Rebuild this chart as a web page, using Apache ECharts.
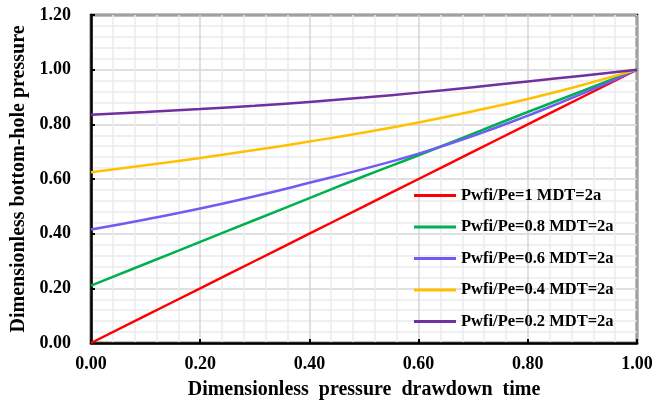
<!DOCTYPE html>
<html><head><meta charset="utf-8">
<script src="https://cdn.jsdelivr.net/npm/echarts@6/dist/echarts.min.js"></script>
<style>html,body{margin:0;padding:0;background:#fff}#c{width:652px;height:402px}</style>
</head><body><div id="c"></div>
<script>
const tValues = [0, 0.1, 0.2, 0.3, 0.4, 0.5, 0.6, 0.7, 0.8, 0.9, 1.0];
const seriesNames = ['Pwfi/Pe=1 MDT=2a','Pwfi/Pe=0.8 MDT=2a','Pwfi/Pe=0.6 MDT=2a','Pwfi/Pe=0.4 MDT=2a','Pwfi/Pe=0.2 MDT=2a'];
const ratio1 = [0, 0.1, 0.2, 0.3, 0.4, 0.5, 0.6, 0.7, 0.8, 0.9, 1.0];
const ratio08 = [0.21, 0.29, 0.37, 0.45, 0.53, 0.61, 0.687, 0.766, 0.845, 0.922, 1.0];
const ratio06 = [0.415, 0.452, 0.492, 0.537, 0.586, 0.637, 0.693, 0.758, 0.832, 0.912, 1.0];
const ratio04 = [0.625, 0.65, 0.677, 0.706, 0.737, 0.77, 0.807, 0.848, 0.893, 0.944, 1.0];
const ratio02 = [0.835, 0.845, 0.856, 0.868, 0.882, 0.898, 0.916, 0.936, 0.957, 0.978, 1.0];
const colors = ['#ff0000', '#00b050', '#6f5cf2', '#ffc000', '#7030a0'];
const allData = [ratio1, ratio08, ratio06, ratio04, ratio02];

const font = '"Liberation Serif", "Times New Roman", serif';
const chart = echarts.init(document.getElementById('c'));
chart.setOption({
  animation: false,
  grid: { left: 91, right: 15, top: 15, bottom: 59, containLabel: false, outerBoundsMode: 'none',
          show: true, borderColor: '#000', borderWidth: 2.5 },
  legend: {
    orient: 'vertical', left: 409, top: 182,
    icon: 'rect', itemWidth: 42, itemHeight: 3, itemGap: 14.5,
    textStyle: { fontFamily: font, fontWeight: 'bold', fontSize: 16.5, lineHeight: 16, color: '#000' },
    data: seriesNames
  },
  xAxis: {
    type: 'value', min: 0, max: 1, interval: 0.2,
    name: 'Dimensionless  pressure  drawdown  time', nameLocation: 'middle', nameGap: 37,
    nameTextStyle: { fontFamily: font, fontWeight: 'bold', fontSize: 20, color: '#000' },
    axisLine: { lineStyle: { color: '#000', width: 2.5 } },
    axisTick: { show: true, inside: true, length: 4, lineStyle: { color: '#000', width: 2 } },
    axisLabel: { fontFamily: font, fontWeight: 'bold', fontSize: 18, color: '#000', margin: 12, formatter: v => v.toFixed(2) },
    splitLine: { show: true, lineStyle: { color: '#d6d6d6', width: 1.5 } },
    minorTick: { show: false, splitNumber: 5 },
    minorSplitLine: { show: true, lineStyle: { color: '#ececec', width: 1.5 } }
  },
  yAxis: {
    type: 'value', min: 0, max: 1.2, interval: 0.2,
    name: 'Dimensionless bottom-hole pressure', nameLocation: 'middle', nameGap: 52,
    nameTextStyle: { fontFamily: font, fontWeight: 'bold', fontSize: 20, color: '#000' },
    axisLine: { show: true, lineStyle: { color: '#000', width: 2.5 } },
    axisTick: { show: true, inside: true, length: 4, lineStyle: { color: '#000', width: 2 } },
    axisLabel: { fontFamily: font, fontWeight: 'bold', fontSize: 18, color: '#000', margin: 20, formatter: v => v.toFixed(2) },
    splitLine: { show: true, lineStyle: { color: '#d6d6d6', width: 1.5 } },
    minorTick: { show: false, splitNumber: 5 },
    minorSplitLine: { show: true, lineStyle: { color: '#ececec', width: 1.5 } }
  },
  series: seriesNames.map((n, i) => ({
    name: n, type: 'line', smooth: true, symbol: 'none',
    data: tValues.map((t, j) => [t, allData[i][j]]),
    lineStyle: { color: colors[i], width: 2.5 },
    itemStyle: { color: colors[i] }
  }))
});
</script></body></html>
